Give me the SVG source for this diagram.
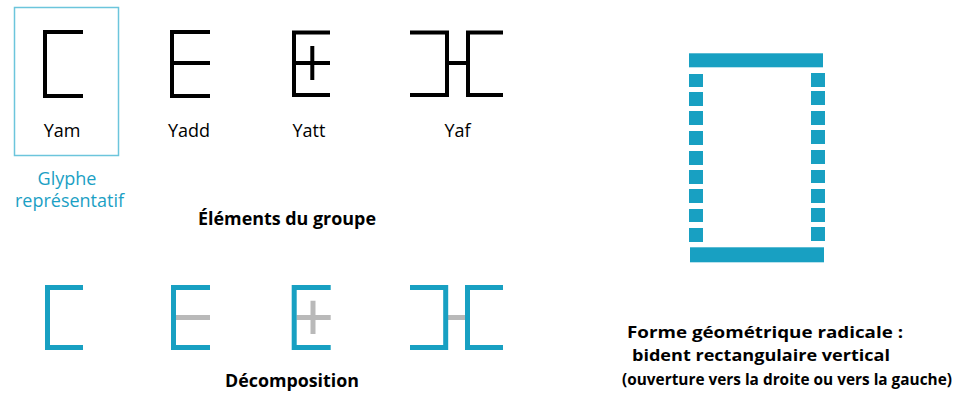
<svg xmlns="http://www.w3.org/2000/svg" width="957" height="400" viewBox="0 0 957 400">
<style>
  .lbl { font-family: "Open Sans", "Noto Sans", sans-serif; font-size: 18px; fill: #000; text-anchor: middle; }
  .cap { font-family: "Open Sans", "Noto Sans", sans-serif; font-size: 17.5px; font-weight: bold; fill: #000; text-anchor: middle; }
  .cap2 { font-family: "Open Sans", "Noto Sans", sans-serif; font-size: 16.5px; font-weight: bold; fill: #000; text-anchor: middle; }
  .blueTxt { font-family: "Open Sans", "Noto Sans", sans-serif; font-size: 17.5px; fill: #1ba0c4; text-anchor: middle; }
  .blk { fill: none; stroke: #000; stroke-width: 4; }
  .blu { fill: none; stroke: #18a0c2; stroke-width: 5; }
  .gry { fill: none; stroke: #b9b9b9; stroke-width: 5; }
  .sq { fill: #18a0c2; }
</style>
<rect width="957" height="400" fill="#fff"/>

<g id="yam">
  <rect x="14.5" y="7.5" width="104" height="148" fill="none" stroke="#6cc5dc" stroke-width="1.5"/>
  <path class="blk" d="M83,32 H45 V96 H83"/>
  <text class="lbl" x="62" y="137">Yam</text>
</g>
<g id="yadd">
  <path class="blk" d="M210,32 H172 V96 H210 M172,63 H210"/>
  <text class="lbl" x="189" y="137">Yadd</text>
</g>
<g id="yatt">
  <path class="blk" d="M330,32.5 H294 V95 H330 M294,63 H330 M312.3,46 V80"/>
  <text class="lbl" x="309" y="137">Yatt</text>
</g>
<g id="yaf">
  <path class="blk" d="M410,32.5 H447 V95 H410 M447,63 H468 M503,32.5 H468 V95 H503"/>
  <text class="lbl" x="457.5" y="137">Yaf</text>
</g>

<text class="blueTxt" x="67" y="185" textLength="59" lengthAdjust="spacingAndGlyphs">Glyphe</text>
<text class="blueTxt" x="69.5" y="207" textLength="109" lengthAdjust="spacingAndGlyphs">représentatif</text>
<text class="cap" x="287" y="225" textLength="178" lengthAdjust="spacingAndGlyphs">Éléments du groupe</text>

<g id="dec-yam">
  <path class="blu" d="M83,287.5 H47.5 V347.5 H83"/>
</g>
<g id="dec-yadd">
  <path class="gry" d="M176,317.5 H210"/>
  <path class="blu" d="M210,287.5 H173.5 V347.5 H210"/>
</g>
<g id="dec-yatt">
  <path class="gry" d="M296.5,317.5 H330.7 M313,300.7 V334"/>
  <path class="blu" d="M330.7,287.5 H294.2 V347.5 H330.7"/>
</g>
<g id="dec-yaf">
  <path class="gry" d="M448,317.5 H465"/>
  <path class="blu" d="M410,287.5 H445.7 V347.5 H410 M503,287.5 H467.5 V347.5 H503"/>
</g>
<text class="cap" x="292" y="387" textLength="134" lengthAdjust="spacingAndGlyphs">Décomposition</text>

<g id="bident">
  <rect class="sq" x="689" y="53.3" width="134" height="14"/>
  <rect class="sq" x="690" y="247.3" width="134" height="15"/>
  <rect class="sq" x="689" y="74" width="14" height="13"/>
  <rect class="sq" x="689" y="92" width="14" height="14"/>
  <rect class="sq" x="689" y="111" width="14" height="14"/>
  <rect class="sq" x="689" y="131" width="14" height="14"/>
  <rect class="sq" x="689" y="151" width="14" height="14"/>
  <rect class="sq" x="689" y="170" width="14" height="14"/>
  <rect class="sq" x="689" y="189" width="14" height="14"/>
  <rect class="sq" x="689" y="209" width="14" height="13"/>
  <rect class="sq" x="689" y="228" width="14" height="14"/>
  <rect class="sq" x="811" y="73" width="14" height="14"/>
  <rect class="sq" x="811" y="91" width="14" height="14"/>
  <rect class="sq" x="811" y="111" width="14" height="14"/>
  <rect class="sq" x="811" y="130" width="14" height="14"/>
  <rect class="sq" x="811" y="150" width="14" height="14"/>
  <rect class="sq" x="811" y="170" width="14" height="13"/>
  <rect class="sq" x="811" y="189" width="14" height="14"/>
  <rect class="sq" x="811" y="208" width="14" height="14"/>
  <rect class="sq" x="811" y="227" width="14" height="14"/>
</g>
<text class="cap2" x="765" y="338" textLength="276" lengthAdjust="spacingAndGlyphs">Forme géométrique radicale :</text>
<text class="cap2" x="761" y="361" textLength="258" lengthAdjust="spacingAndGlyphs">bident rectangulaire vertical</text>
<text class="cap2" x="787" y="385" textLength="330" lengthAdjust="spacingAndGlyphs">(ouverture vers la droite ou vers la gauche)</text>
</svg>
